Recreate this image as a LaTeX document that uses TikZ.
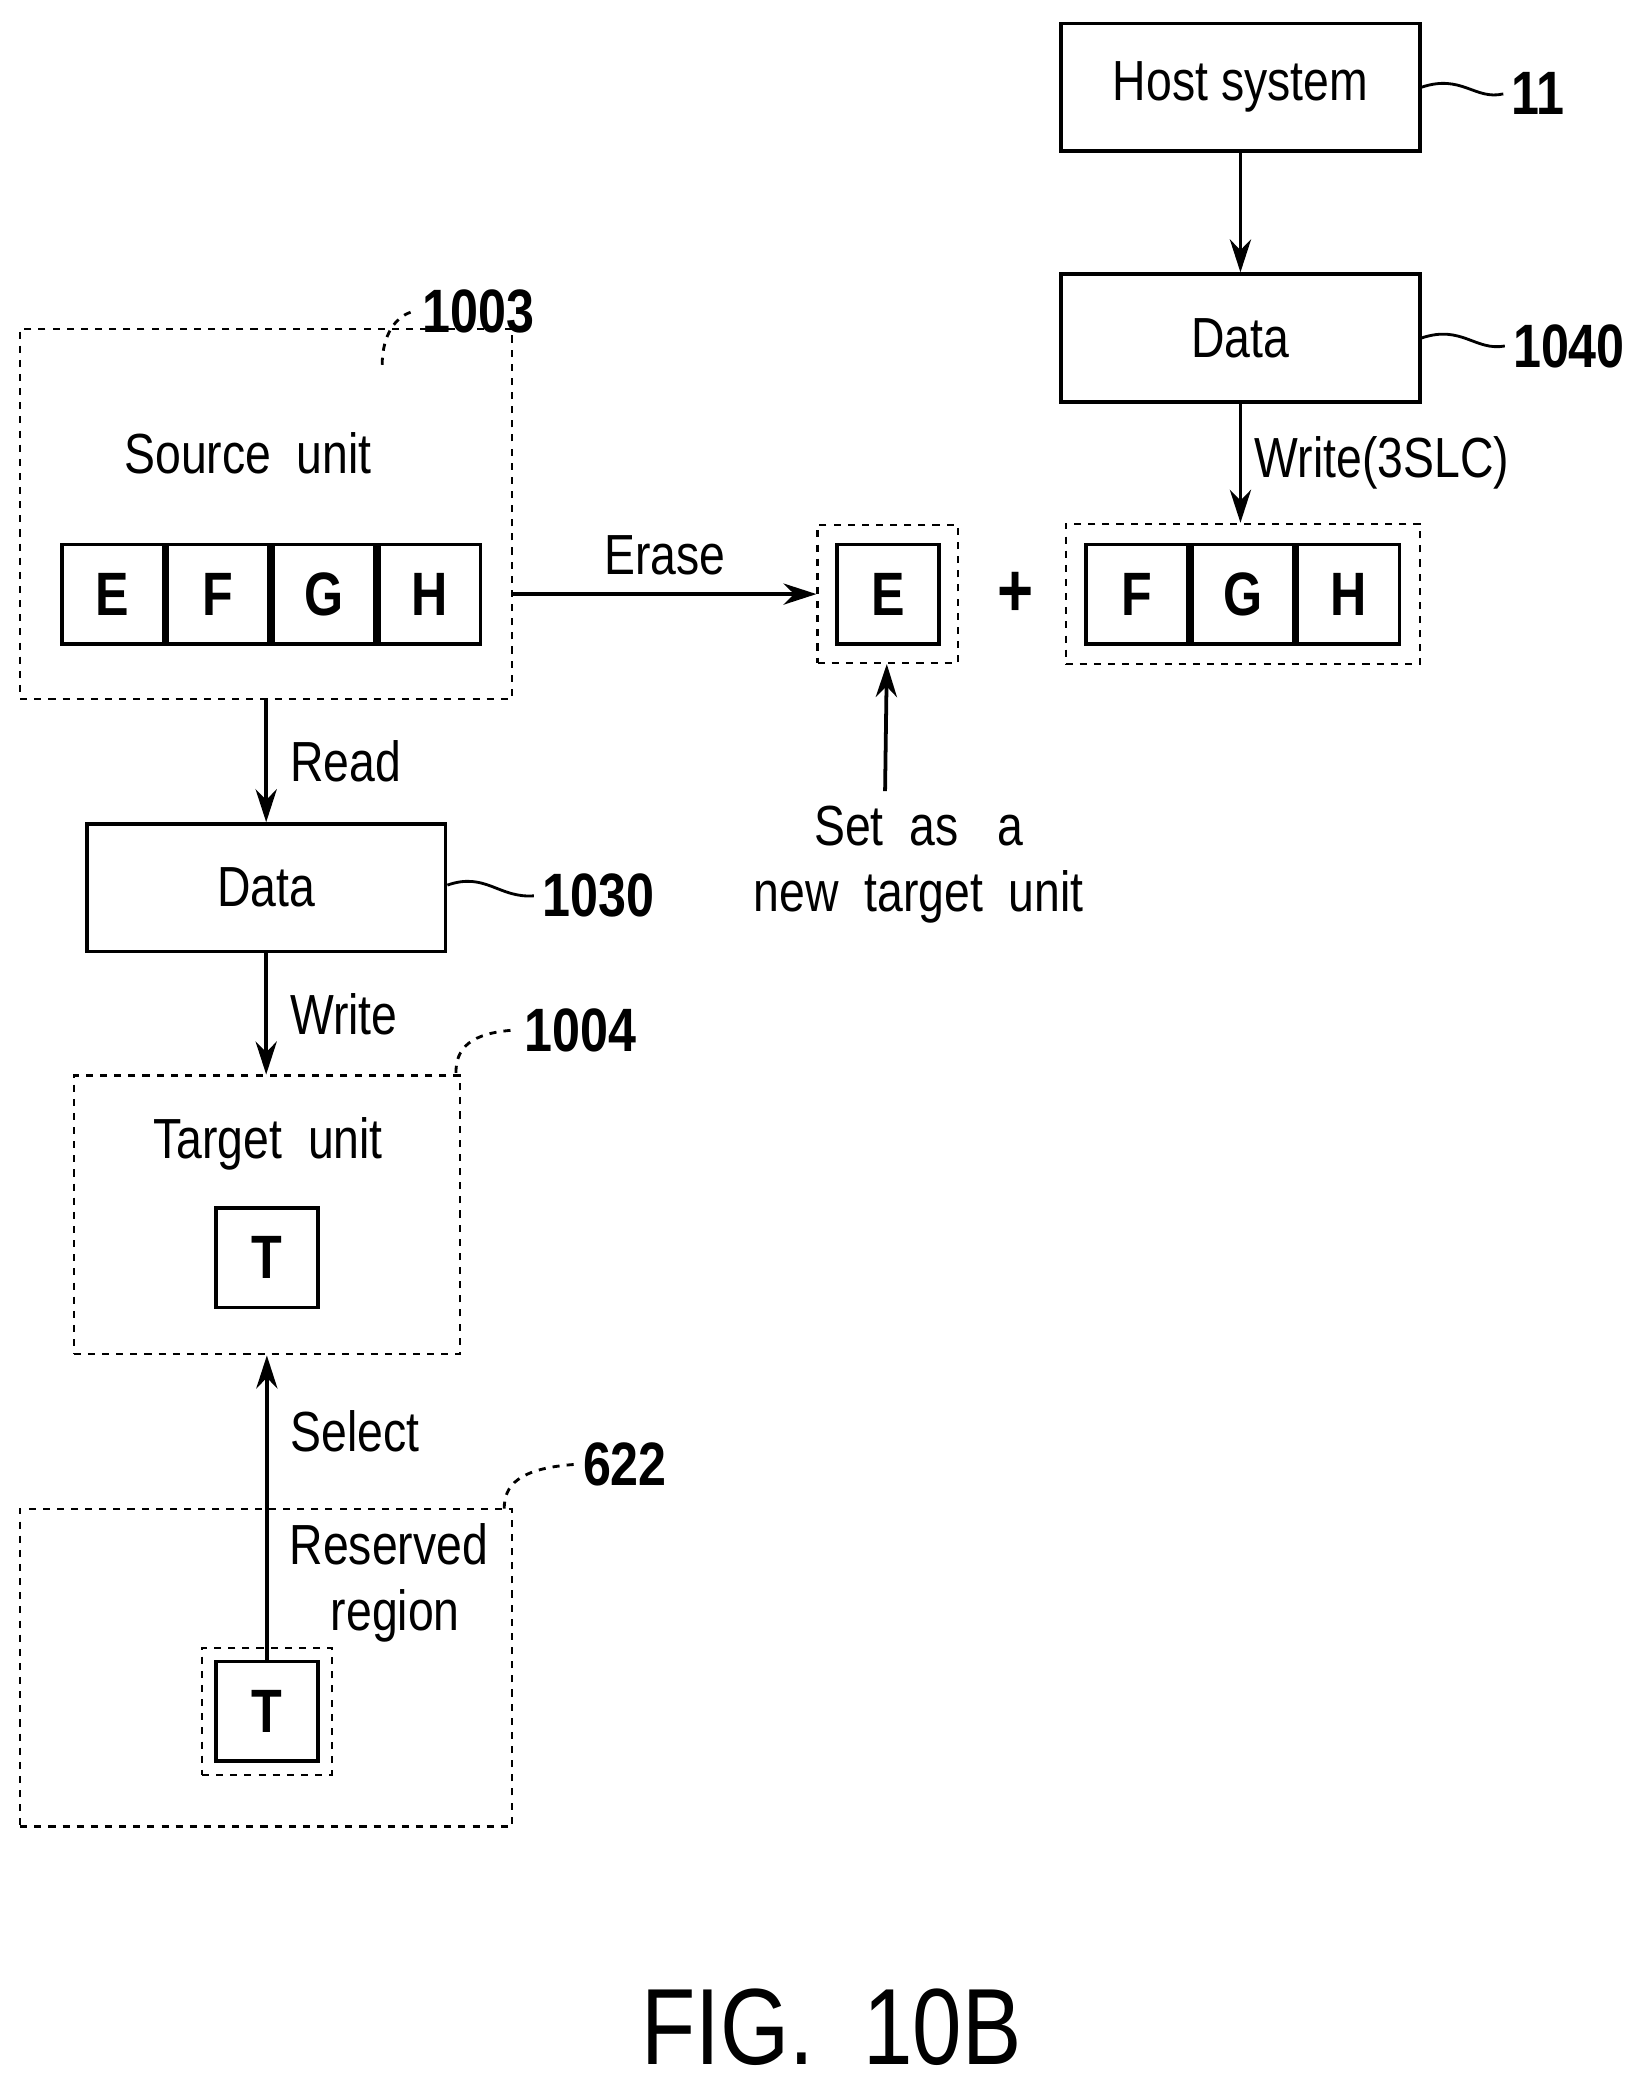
\documentclass[tikz,border=0pt]{standalone}
\usepackage{fontspec}
\setmainfont[FakeStretch=0.82]{Liberation Sans}
\usetikzlibrary{positioning,fit,arrows.meta}
\tikzset{
  box/.style={draw, line width=1.6pt, minimum width=5.35cm, minimum height=1.9cm, font=\fontsize{24}{28}\selectfont},
  cell/.style={draw, line width=1.6pt, minimum width=1.52cm, minimum height=1.48cm, font=\bfseries\fontsize{26}{28}\selectfont},
  region/.style={draw, dashed, line width=0.9pt},
  txt/.style={font=\fontsize{24}{28}\selectfont},
  ref/.style={font=\bfseries\fontsize{26}{28}\selectfont},
  arr/.style={-{Stealth[length=14pt,width=9pt]}, line width=1.6pt},
}
\begin{document}
\begin{tikzpicture}[x={(0.02cm,0)}, y={(0,-0.02cm)}]
    \useasboundingbox (0,0) rectangle (1225,1560);
    % host side
    \node [box] (host) at (925,65) {Host system};
    \node [box] (data40) at (925,252) {Data};
    \node [ref] (l11) at (1147,70) {11};
    \node [ref] (l1040) at (1170,258) {1040};
    \draw [line width=1.2pt] (host.east |- 0,65) .. controls (1090,55) and (1100,75) .. (l11.west);
    \draw [line width=1.2pt] (data40.east |- 0,252) .. controls (1090,242) and (1100,262) .. (l1040.west);
    \draw [arr] (host) -- (data40);
    % target cells
    \node [cell] (cF) at (848,443) {F};
    \node [cell, right=0pt of cF] (cG) {G};
    \node [cell, right=0pt of cG] (cH) {H};
    \node [region, fit=(cF)(cH), inner sep=0.28cm] (fgh) {};
    \node [cell] (cE) at (662,443) {E};
    \node [region, fit=(cE), inner sep=0.26cm] (newE) {};
    \node [font=\bfseries\fontsize{32}{34}\selectfont] (plus) at (757,443) {+};
    \draw [arr] (data40) -- (fgh.north -| data40) node [txt, midway, right=2pt] {Write(3SLC)};
    % source unit
    \node [region, minimum width=7.34cm, minimum height=5.52cm] (src) at (198.5,383) {};
    \node [txt] (srcLbl) at (185,338) {Source \ unit};
    \node [cell] (sE) at (84,443) {E};
    \node [cell, right=0pt of sE] (sF) {F};
    \node [cell, right=0pt of sF] (sG) {G};
    \node [cell, right=0pt of sG] (sH) {H};
    \node [ref] (l1003) at (357,232) {1003};
    \draw [dashed, line width=1.2pt] (285,272) .. controls (285,250) and (295,235) .. (l1003.west);
    \draw [arr] (src.east |- 0,443) -- (newE) node [txt, midway, above=4pt] {Erase};
    \node [txt, align=center] (setLbl) at (685,645) {Set \ as \ \ a\\new \ target \ unit};
    \draw [arr] (660,590) -- (newE);
    % data / target
    \node [box] (data30) at (198.5,662) {Data};
    \node [ref] (l1030) at (446,668) {1030};
    \draw [line width=1.2pt] (data30.east |- 0,660) .. controls (362,650) and (372,670) .. (l1030.west);
    \draw [arr] (src.south -| data30) -- (data30) node [txt, midway, right=6pt] {Read};
    \node [region, minimum width=5.76cm, minimum height=4.16cm] (tgt) at (199,906) {};
    \node [txt] (tgtLbl) at (200,853) {Target \ unit};
    \node [cell] (tT) at (199,938) {T};
    \node [ref] (l1004) at (433,768) {1004};
    \draw [dashed, line width=1.2pt] (340,800) .. controls (340,782) and (350,770) .. (l1004.west);
    \draw [arr] (data30) -- (tgt.north -| data30) node [txt, midway, right=6pt] {Write};
    % reserved region
    \node [region, minimum width=7.34cm, minimum height=4.74cm] (res) at (198.5,1243.5) {};
    \node [txt, align=center] (resLbl) at (290,1180) {Reserved\\ \ region};
    \node [cell] (rT) at (199,1276) {T};
    \node [region, fit=(rT), inner sep=0.18cm] (rTo) {};
    \node [ref] (l622) at (466,1092) {622};
    \draw [dashed, line width=1.2pt] (376,1125) .. controls (376,1108) and (386,1095) .. (l622.west);
    \draw [arr] (rT.north) -- (tgt.south -| rT) node [txt, pos=0.75, right=6pt] {Select};
    \node [font=\fontsize{46}{50}\selectfont] (fig) at (620,1512) {FIG. \ 10B};
\end{tikzpicture}
\end{document}
